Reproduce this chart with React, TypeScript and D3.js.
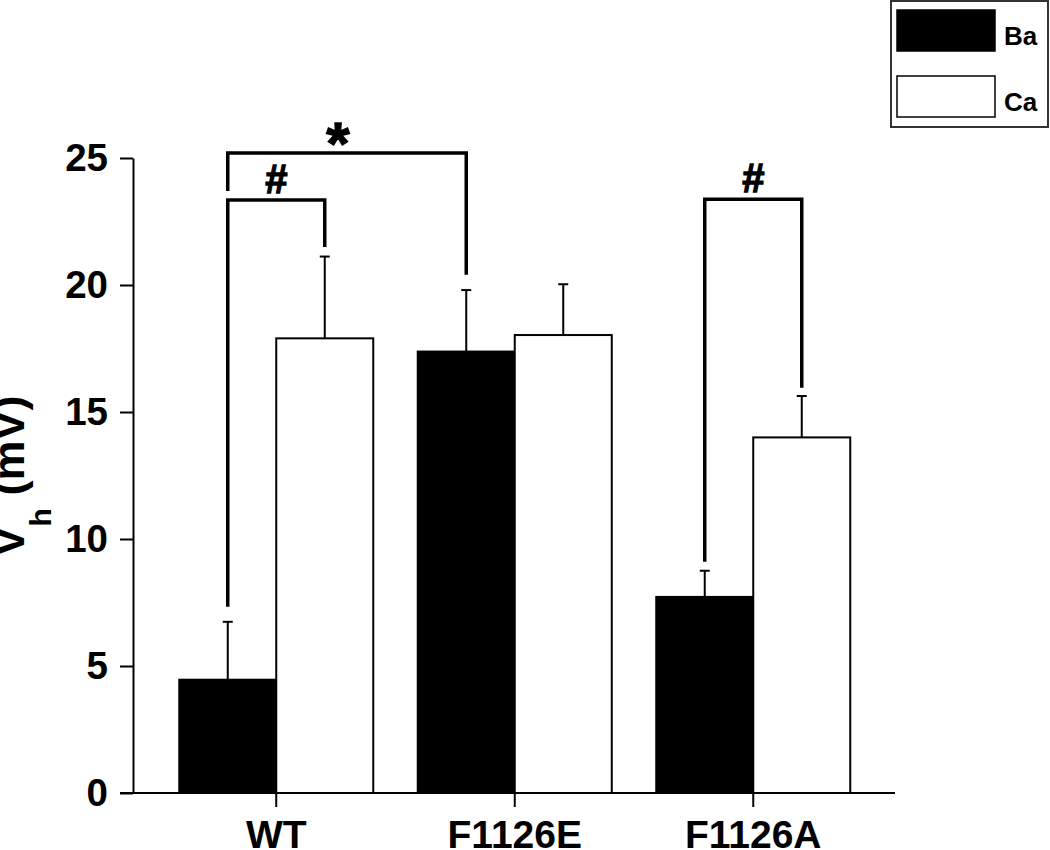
import React, { useRef, useEffect } from "react";
import * as d3 from "d3";

// groups and series
const categories = ["WT", "F1126E", "F1126A"];
const seriesNames = ["Ba", "Ca"];
const baMeans = [4.46, 17.38, 7.72];
const baErrors = [2.28, 2.42, 1.03];
const caMeans = [17.9, 18.03, 14.0];
const caErrors = [3.22, 2.0, 1.63];
const yTicks = [0, 5, 10, 15, 20, 25];

// significance brackets: [cat, series] ends, level and where each leg stops
const bracketLabels = ["#", "*", "#"];
const bracketFrom = [["WT", "Ba"], ["WT", "Ba"], ["F1126A", "Ba"]];
const bracketTo = [["WT", "Ca"], ["F1126E", "Ba"], ["F1126A", "Ca"]];
const bracketLevels = [23.35, 25.2, 23.38];
const bracketLeftEnds = [7.33, 23.7, 9.1];
const bracketRightEnds = [21.5, 20.4, 15.95];
const bracketLabelShift = [0, -9, 0];

const FONT = "'Liberation Sans', Arial, sans-serif";

interface Bar {
  category: string;
  series: string;
  mean: number;
  err: number;
}

function drawChart(svgEl: SVGSVGElement) {
  const svg = d3.select(svgEl);
  svg.selectAll("*").remove();

  const bars: Bar[] = [];
  categories.forEach((c, i) => {
    bars.push({ category: c, series: "Ba", mean: baMeans[i], err: baErrors[i] });
    bars.push({ category: c, series: "Ca", mean: caMeans[i], err: caErrors[i] });
  });

  const x = d3.scaleBand<string>().domain(categories).range([157, 872.5]).padding(0);
  const bw = x.bandwidth();
  const xs = d3
    .scaleBand<string>()
    .domain(seriesNames)
    .range([bw / 2 - 97, bw / 2 + 97])
    .padding(0);
  const y = d3.scaleLinear().domain([0, 25]).range([793, 158]);

  const barX = (c: string, s: string) => (x(c) as number) + (xs(s) as number);
  const barMid = (c: string, s: string) => barX(c, s) + xs.bandwidth() / 2;

  // bars
  svg
    .append("g")
    .selectAll("rect")
    .data(bars)
    .enter()
    .append("rect")
    .attr("x", (d) => barX(d.category, d.series))
    .attr("y", (d) => y(d.mean))
    .attr("width", xs.bandwidth())
    .attr("height", (d) => y(0) - y(d.mean))
    .attr("fill", (d) => (d.series === "Ba" ? "#000" : "#fff"))
    .attr("stroke", "#000")
    .attr("stroke-width", 2);

  // error bars (upper only)
  const eb = svg.append("g").attr("stroke", "#000").attr("stroke-width", 2);
  bars.forEach((d) => {
    const cx = barMid(d.category, d.series);
    eb.append("line")
      .attr("x1", cx)
      .attr("x2", cx)
      .attr("y1", y(d.mean))
      .attr("y2", y(d.mean + d.err));
    eb.append("line")
      .attr("x1", cx - 5)
      .attr("x2", cx + 5)
      .attr("y1", y(d.mean + d.err))
      .attr("y2", y(d.mean + d.err));
  });

  // y axis
  const yAxis = svg
    .append("g")
    .attr("transform", "translate(133,0)")
    .call(d3.axisLeft(y).tickValues(yTicks).tickSize(13).tickPadding(12).tickSizeOuter(0));
  yAxis.select(".domain").attr("stroke-width", 2);
  yAxis.selectAll(".tick line").attr("stroke-width", 2);
  yAxis
    .selectAll(".tick text")
    .attr("font-family", FONT)
    .attr("font-weight", "bold")
    .attr("font-size", 38.5)
    .attr("fill", "#000");

  // x axis
  const xAxisG = svg.append("g").attr("transform", "translate(0,793)");
  xAxisG
    .append("line")
    .attr("x1", 120)
    .attr("x2", 895)
    .attr("stroke", "#000")
    .attr("stroke-width", 2);
  categories.forEach((c) => {
    const cx = (x(c) as number) + bw / 2;
    xAxisG
      .append("line")
      .attr("x1", cx)
      .attr("x2", cx)
      .attr("y1", 0)
      .attr("y2", 14)
      .attr("stroke", "#000")
      .attr("stroke-width", 2);
    xAxisG
      .append("text")
      .attr("x", cx)
      .attr("y", 55)
      .attr("text-anchor", "middle")
      .attr("font-family", FONT)
      .attr("font-weight", "bold")
      .attr("font-size", 39)
      .text(c);
  });

  // y label
  const yl = svg
    .append("text")
    .attr("transform", "translate(24,476) rotate(-90)")
    .attr("text-anchor", "middle")
    .attr("font-family", FONT)
    .attr("font-weight", "bold")
    .attr("font-size", 45);
  yl.append("tspan").text("V");
  yl.append("tspan").attr("font-size", 30).attr("dy", 27).text("h");
  yl.append("tspan").attr("dy", -27).text(" (mV)");

  // significance brackets
  const br = svg.append("g");
  bracketLabels.forEach((lab, i) => {
    const x1 = barMid(bracketFrom[i][0], bracketFrom[i][1]);
    const x2 = barMid(bracketTo[i][0], bracketTo[i][1]);
    const top = y(bracketLevels[i]);
    br.append("path")
      .attr(
        "d",
        `M${x1},${y(bracketLeftEnds[i])}V${top}H${x2}V${y(bracketRightEnds[i])}`
      )
      .attr("fill", "none")
      .attr("stroke", "#000")
      .attr("stroke-width", 3.5);
    const isStar = lab === "*";
    br.append("text")
      .attr("x", (x1 + x2) / 2 + bracketLabelShift[i])
      .attr("y", isStar ? top + 11 : top - 7)
      .attr("text-anchor", "middle")
      .attr("font-family", FONT)
      .attr("font-weight", "bold")
      .attr("font-size", isStar ? 60 : 40)
      .attr("stroke", "#000")
      .attr("stroke-width", 1.3)
      .text(lab);
  });

  // legend
  const lg = svg.append("g");
  lg.append("rect")
    .attr("x", 891)
    .attr("y", 1)
    .attr("width", 157)
    .attr("height", 126)
    .attr("fill", "#fff")
    .attr("stroke", "#333")
    .attr("stroke-width", 2);
  seriesNames.forEach((s, i) => {
    const ty = 10 + i * 66;
    lg.append("rect")
      .attr("x", 897)
      .attr("y", ty)
      .attr("width", 98)
      .attr("height", 41)
      .attr("fill", s === "Ba" ? "#000" : "#fff")
      .attr("stroke", "#000")
      .attr("stroke-width", 1.5);
    lg.append("text")
      .attr("x", 1004)
      .attr("y", ty + 35)
      .attr("font-family", FONT)
      .attr("font-weight", "bold")
      .attr("font-size", 26)
      .text(s);
  });
}

const App: React.FunctionComponent = function () {
  const svgRef = useRef<SVGSVGElement>(null);

  useEffect(() => {
    if (svgRef.current == null) {
      return;
    }
    drawChart(svgRef.current);
  }, []);

  return (
    <svg
      ref={svgRef}
      width={1050}
      height={850}
      style={{ position: "absolute", left: 0, top: 0, background: "#fff" }}
    />
  );
};

export default App;
